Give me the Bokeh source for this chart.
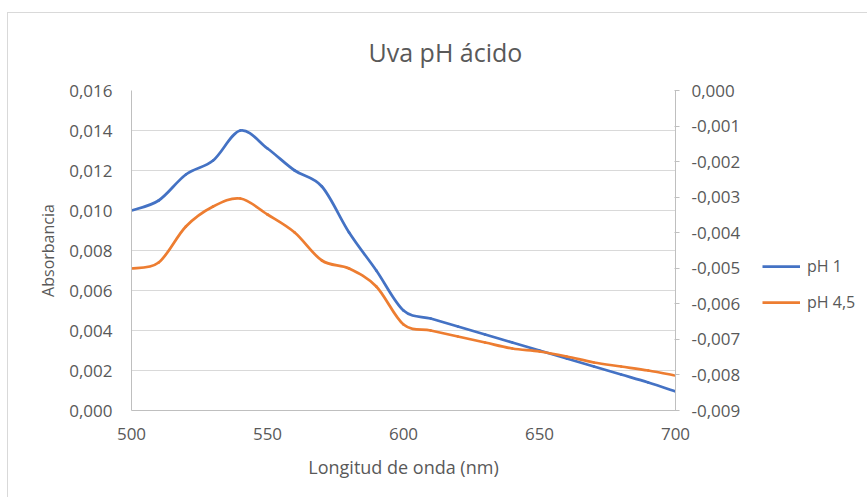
from bokeh.plotting import figure
from bokeh.models import (Range1d, LinearAxis, FixedTicker, CustomJSTickFormatter,
                          Legend, LegendItem, ColumnDataSource)
from bokeh.layouts import row
from bokeh.embed import file_html
from bokeh.resources import INLINE

# --- data ---
wavelength = [500, 510, 520, 530, 540, 550, 560, 570, 580, 590, 600,
              610, 620, 630, 640, 650, 660, 670, 680, 690, 700]
ph1 = [0.0100, 0.0105, 0.0118, 0.0125, 0.0140, 0.0131, 0.0120, 0.0112, 0.0089, 0.0070, 0.0050,
       0.0046, 0.0042, 0.0038, 0.0034, 0.0030, 0.0026, 0.0022, 0.0018, 0.0014, 0.00095]
ph45 = [0.0071, 0.0074, 0.0092, 0.0102, 0.0106, 0.0098, 0.0089, 0.0075, 0.0071, 0.0062, 0.0043,
        0.0040, 0.0037, 0.0034, 0.0031, 0.00295, 0.0027, 0.0024, 0.0022, 0.0020, 0.00175]
series_names = ["pH 1", "pH 4,5"]
left_ticks = [0.000, 0.002, 0.004, 0.006, 0.008, 0.010, 0.012, 0.014, 0.016]
right_ticks = [-0.009, -0.008, -0.007, -0.006, -0.005, -0.004, -0.003, -0.002, -0.001, 0.000]
x_ticks = [500, 550, 600, 650, 700]
title_text = "Uva pH ácido"
x_label = "Longitud de onda (nm)"
y_label = "Absorbancia"

FONT = "Open Sans"
GREY = "#595959"
BLUE = "#4472C4"
ORANGE = "#ED7D31"
COLORS = [BLUE, ORANGE]


def smooth_segments(xs, ys):
    """Excel-style smoothed line: one cubic Bezier per pair of neighbouring points
    (Catmull-Rom control points), so the curve passes through every data point."""
    n = len(xs)
    seg = dict(x0=[], y0=[], x1=[], y1=[], cx0=[], cy0=[], cx1=[], cy1=[])
    t = 1.0 / 6.0
    for i in range(n - 1):
        x0, y0 = xs[i], ys[i]
        x1, y1 = xs[i + 1], ys[i + 1]
        xp, yp = (xs[i - 1], ys[i - 1]) if i > 0 else (x0, y0)
        xn, yn = (xs[i + 2], ys[i + 2]) if i + 2 < n else (x1, y1)
        seg["x0"].append(x0); seg["y0"].append(y0)
        seg["x1"].append(x1); seg["y1"].append(y1)
        seg["cx0"].append(x0 + (x1 - xp) * t); seg["cy0"].append(y0 + (y1 - yp) * t)
        seg["cx1"].append(x1 - (xn - x0) * t); seg["cy1"].append(y1 - (yn - y0) * t)
    return ColumnDataSource(seg)


# ---------------- main chart ----------------
p = figure(width=740, height=485, output_backend="svg", toolbar_location=None,
           x_range=Range1d(500, 700), y_range=Range1d(0, 0.016),
           min_border_left=123, min_border_right=73, min_border_top=77, min_border_bottom=88)
p.outline_line_color = None
p.background_fill_color = "white"
p.border_fill_color = "white"

p.title.text = title_text
p.title.text_font = FONT
p.title.text_font_size = "25px"
p.title.text_font_style = "normal"
p.title.text_color = GREY
p.title.align = "left"
p.title.offset = 237
p.title.vertical_align = "top"
p.title.standoff = 40

fmt = CustomJSTickFormatter(code="return tick.toFixed(3).replace('.', ',');")

# left axis
ya = p.yaxis[0]
ya.ticker = FixedTicker(ticks=left_ticks)
ya.formatter = fmt
ya.axis_line_color = "#bfbfbf"
ya.major_tick_line_color = None
ya.minor_tick_line_color = None
ya.major_label_text_font = FONT
ya.major_label_text_font_size = "17px"
ya.major_label_text_color = GREY
ya.major_label_standoff = 13
ya.axis_label = y_label
ya.axis_label_text_font = FONT
ya.axis_label_text_font_size = "16px"
ya.axis_label_text_font_style = "normal"
ya.axis_label_text_color = GREY
ya.axis_label_standoff = 7

# bottom axis
xa = p.xaxis[0]
xa.ticker = FixedTicker(ticks=x_ticks)
xa.axis_line_color = "#bfbfbf"
xa.major_tick_line_color = None
xa.minor_tick_line_color = None
xa.major_label_text_font = FONT
xa.major_label_text_font_size = "17px"
xa.major_label_text_color = GREY
xa.major_label_standoff = 11
xa.axis_label = x_label
xa.axis_label_text_font = FONT
xa.axis_label_text_font_size = "18px"
xa.axis_label_text_font_style = "normal"
xa.axis_label_text_color = GREY
xa.axis_label_standoff = 12

# right (secondary) axis
p.extra_y_ranges = {"sec": Range1d(-0.009, 0.0)}
ra = LinearAxis(y_range_name="sec", ticker=FixedTicker(ticks=right_ticks), formatter=fmt)
ra.axis_line_color = "#bfbfbf"
ra.major_tick_line_color = "#bfbfbf"
ra.major_tick_out = 4
ra.major_tick_in = 1
ra.minor_tick_line_color = None
ra.major_label_text_font = FONT
ra.major_label_text_font_size = "17px"
ra.major_label_text_color = GREY
ra.major_label_standoff = 12
p.add_layout(ra, "right")

p.xgrid.grid_line_color = None
p.ygrid.ticker = FixedTicker(ticks=left_ticks)
p.ygrid.grid_line_color = "#d9d9d9"
p.ygrid.grid_line_width = 1

for ys, c in zip([ph1, ph45], COLORS):
    p.bezier(x0="x0", y0="y0", x1="x1", y1="y1", cx0="cx0", cy0="cy0", cx1="cx1", cy1="cy1",
             source=smooth_segments(wavelength, ys), line_color=c, line_width=2.75,
             line_cap="round")

# ---------------- legend panel (to the right of the chart) ----------------
q = figure(width=120, height=485, output_backend="svg", toolbar_location=None,
           x_range=Range1d(0, 1), y_range=Range1d(0, 1),
           min_border=0, min_border_left=0, min_border_right=0,
           min_border_top=0, min_border_bottom=0)
q.axis.visible = False
q.grid.visible = False
q.outline_line_color = None
q.background_fill_color = "white"
q.border_fill_color = "white"

# legend keys: the same series, drawn in q where they fall outside its visible range
items = []
for name, ys, c in zip(series_names, [ph1, ph45], COLORS):
    r = q.line(wavelength, ys, line_color=c, line_width=2.75)
    items.append(LegendItem(label=name, renderers=[r]))

legend = Legend(items=items, location=(14, 97), orientation="vertical")
legend.border_line_color = None
legend.background_fill_alpha = 0
legend.padding = 0
legend.margin = 0
legend.spacing = 14
legend.glyph_width = 38
legend.glyph_height = 20
legend.label_height = 20
legend.label_standoff = 7
legend.label_text_font = FONT
legend.label_text_font_size = "16px"
legend.label_text_color = GREY
q.add_layout(legend, "center")

layout = row(p, q, spacing=0)
layout.margin = (12, 0, 0, 7)
layout.styles = {"border-left": "1px solid #d9d9d9", "border-top": "1px solid #d9d9d9"}

open("out.html", "w").write(file_html(layout, INLINE))
